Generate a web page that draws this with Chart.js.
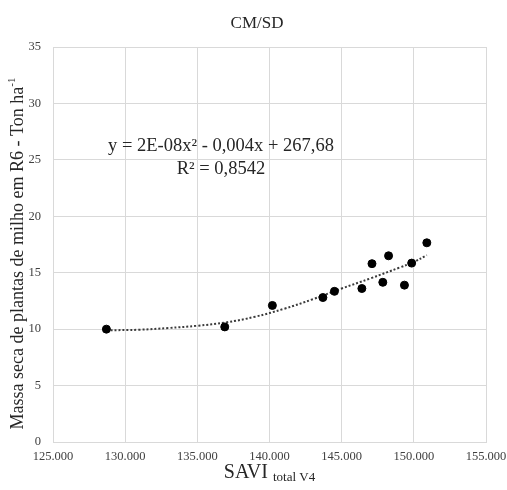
<!DOCTYPE html>
<html>
<head>
<meta charset="utf-8">
<script src="https://cdn.jsdelivr.net/npm/chart.js@4.4.1/dist/chart.umd.min.js"></script>
<style>
  html, body { margin: 0; padding: 0; background: #fff; }
  #wrap { width: 507px; height: 490px; position: relative; }
</style>
</head>
<body>
<div id="wrap"><canvas id="chart"></canvas></div>
<script>
// ---- DATA ----
const saviValues = [128700, 136900, 140200, 143700, 144500, 146400, 147100, 147850, 148250, 149350, 149850, 150900];
const massValues = [10.0, 10.2, 12.1, 12.8, 13.35, 13.6, 15.8, 14.15, 16.5, 13.9, 15.85, 17.65];

// dotted trendline as drawn in the picture
const trendX = [128700, 131000, 133000, 135000, 137000, 139000, 141000, 143000, 145000, 147000, 149000, 150000, 150900];
const trendY = [9.9, 9.95, 10.1, 10.3, 10.6, 11.1, 11.8, 12.65, 13.6, 14.5, 15.45, 15.95, 16.55];

const xTicks = [125000, 130000, 135000, 140000, 145000, 150000, 155000];
const yTicks = [0, 5, 10, 15, 20, 25, 30, 35];

const chartTitle = 'CM/SD';
const equationText = 'y = 2E-08x² - 0,004x + 267,68';
const r2Text = 'R² = 0,8542';

const SERIF = "'Liberation Serif', 'Times New Roman', serif";

function fmtThousands(v) {
    return String(v).replace(/\B(?=(\d{3})+(?!\d))/g, '.');
}

// ---- titles + equation drawn on the canvas ----
const textPlugin = {
    id: 'textPlugin',
    afterDraw(chart) {
        const ctx = chart.ctx;
        const area = chart.chartArea;
        ctx.save();
        ctx.fillStyle = '#262626';
        ctx.textBaseline = 'middle';

        // chart title
        ctx.font = '17px ' + SERIF;
        ctx.textAlign = 'center';
        ctx.fillText(chartTitle, 257, 24);

        // x axis title with subscript
        const cx = (area.left + area.right) / 2;
        ctx.font = '20px ' + SERIF;
        const main = 'SAVI ';
        const wMain = ctx.measureText(main).width;
        ctx.font = '13px ' + SERIF;
        const sub = 'total V4';
        const wSub = ctx.measureText(sub).width;
        const x0 = cx - (wMain + wSub) / 2;
        ctx.textAlign = 'left';
        ctx.textBaseline = 'alphabetic';
        ctx.font = '20px ' + SERIF;
        ctx.fillText(main, x0, 478);
        ctx.font = '13px ' + SERIF;
        ctx.fillText(sub, x0 + wMain, 481);

        // y axis title, rotated, with superscript
        ctx.textBaseline = 'middle';
        ctx.translate(18, (area.top + area.bottom) / 2 + 9);
        ctx.rotate(-Math.PI / 2);
        ctx.font = '18px ' + SERIF;
        const yMain = 'Massa seca de plantas de milho em R6 - Ton ha';
        const wy = ctx.measureText(yMain).width;
        ctx.font = '11px ' + SERIF;
        const wsup = ctx.measureText('-1').width;
        const y0 = -(wy + wsup) / 2;
        ctx.font = '18px ' + SERIF;
        ctx.fillText(yMain, y0, 0);
        ctx.font = '11px ' + SERIF;
        ctx.fillText('-1', y0 + wy, -6);
        ctx.restore();

        // trendline equation
        ctx.save();
        ctx.fillStyle = '#262626';
        ctx.textBaseline = 'middle';
        ctx.textAlign = 'center';
        ctx.font = '18.5px ' + SERIF;
        ctx.fillText(equationText, 221, 146);
        ctx.fillText(r2Text, 221, 169);
        ctx.restore();
    }
};

new Chart(document.getElementById('chart'), {
    type: 'scatter',
    data: {
        datasets: [
            {
                label: 'Massa seca',
                data: saviValues.map((x, i) => ({ x, y: massValues[i] })),
                backgroundColor: '#000',
                borderColor: '#000',
                pointRadius: 4,
                pointHoverRadius: 4,
                order: 1
            },
            {
                type: 'line',
                label: 'Polinomial',
                data: trendX.map((x, i) => ({ x, y: trendY[i] })),
                borderColor: '#3a3a3a',
                borderWidth: 2,
                borderDash: [2, 2],
                pointRadius: 0,
                tension: 0.4,
                fill: false,
                order: 2
            }
        ]
    },
    options: {
        responsive: true,
        maintainAspectRatio: false,
        animation: false,
        layout: { padding: { top: 47, right: 21, bottom: 0, left: 0 } },
        plugins: {
            legend: { display: false },
            tooltip: { enabled: false },
            title: { display: false }
        },
        scales: {
            x: {
                type: 'linear',
                min: xTicks[0],
                max: xTicks[xTicks.length - 1],
                afterBuildTicks: s => { s.ticks = xTicks.map(v => ({ value: v })); },
                afterFit: s => {
                    s.height = 48;
                    s.paddingLeft = 0;
                    s.paddingRight = 0;
                },
                grid: { color: '#d9d9d9', lineWidth: 1, drawTicks: false },
                border: { color: '#d9d9d9' },
                ticks: {
                    color: '#404040',
                    font: { family: SERIF, size: 12.5 },
                    padding: 7,
                    maxRotation: 0,
                    autoSkip: false,
                    callback: v => fmtThousands(v)
                }
            },
            y: {
                min: yTicks[0],
                max: yTicks[yTicks.length - 1],
                afterBuildTicks: s => { s.ticks = yTicks.map(v => ({ value: v })); },
                afterFit: s => { s.width = 53; },
                grid: { color: '#d9d9d9', lineWidth: 1, drawTicks: false },
                border: { color: '#d9d9d9' },
                ticks: {
                    color: '#404040',
                    font: { family: SERIF, size: 12.5 },
                    padding: 12
                }
            }
        }
    },
    plugins: [textPlugin]
});
</script>
</body>
</html>
